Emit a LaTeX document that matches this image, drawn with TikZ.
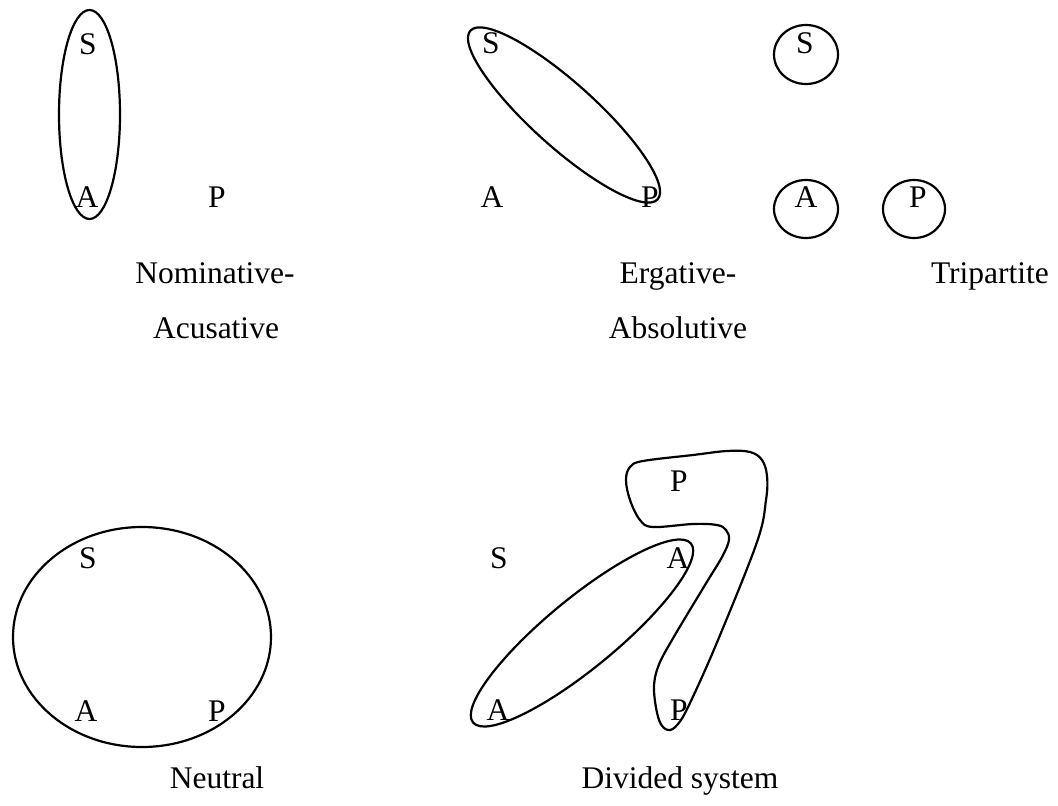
\documentclass[tikz,border=0pt]{standalone}
\usepackage{fontspec}
\setmainfont{Liberation Serif}
\begin{document}
\begin{tikzpicture}[x=1pt,y=-1pt,
  lbl/.style={inner sep=0pt, anchor=base, font=\fontsize{31.5}{36}\selectfont},
  ring/.style={line width=2.2pt}]
\useasboundingbox (0,0) rectangle (1058,806);

% Nominative-Accusative
\draw[ring] (89.5,114.5) ellipse [x radius=30.5, y radius=104.5];
\node[lbl] (nS) at (88,54) {S};
\node[lbl] (nA) at (87,207) {A};
\node[lbl] (nP) at (217,207) {P};
\node[lbl] (nt1) at (215,283) {Nominative-};
\node[lbl] (nt2) at (216,338) {Acusative};

% Ergative-Absolutive
\draw[ring, rotate around={-42:(564,115)}] (564,115) ellipse [x radius=126, y radius=32];
\node[lbl] (eS) at (491,53) {S};
\node[lbl] (eA) at (492,207) {A};
\node[lbl] (eP) at (650,207) {P};
\node[lbl] (et1) at (678,283) {Ergative-};
\node[lbl] (et2) at (678,338) {Absolutive};

% Tripartite
\draw[ring] (806,54.5) ellipse [x radius=32, y radius=29.5];
\draw[ring] (806,209) ellipse [x radius=32, y radius=29];
\draw[ring] (914,209) ellipse [x radius=31, y radius=29];
\node[lbl] (tS) at (805,53) {S};
\node[lbl] (tA) at (806,207) {A};
\node[lbl] (tP) at (918,207) {P};
\node[lbl] (tt) at (990,283) {Tripartite};

% Neutral
\draw[ring] (142,637) ellipse [x radius=129, y radius=110];
\node[lbl] (uS) at (88,568) {S};
\node[lbl] (uA) at (86,721) {A};
\node[lbl] (uP) at (217,721) {P};
\node[lbl] (ut) at (217,788) {Neutral};

% Divided system
\draw[ring, rotate around={39.4:(582,633)}] (582,633) ellipse [x radius=141, y radius=35];
\draw[ring] plot[smooth cycle, tension=0.6] coordinates {
  (630,467) (643,461) (693,455) (727,451) (750,452) (762,460) (767,476)
  (766,500) (757,542) (718,640) (690,703) (678,724) (668,730) (659,720)
  (654,690) (658,667) (672,640) (705,585) (722,557) (729,540) (726,530)
  (717,525) (693,524) (653,527) (640,520) (630,500) (626,480)};
\node[lbl] (dS) at (499,568) {S};
\node[lbl] (dA1) at (678,568) {A};
\node[lbl] (dA2) at (498,720) {A};
\node[lbl] (dP1) at (679,491) {P};
\node[lbl] (dP2) at (679,720) {P};
\node[lbl] (dt) at (680,788) {Divided system};
\end{tikzpicture}
\end{document}
